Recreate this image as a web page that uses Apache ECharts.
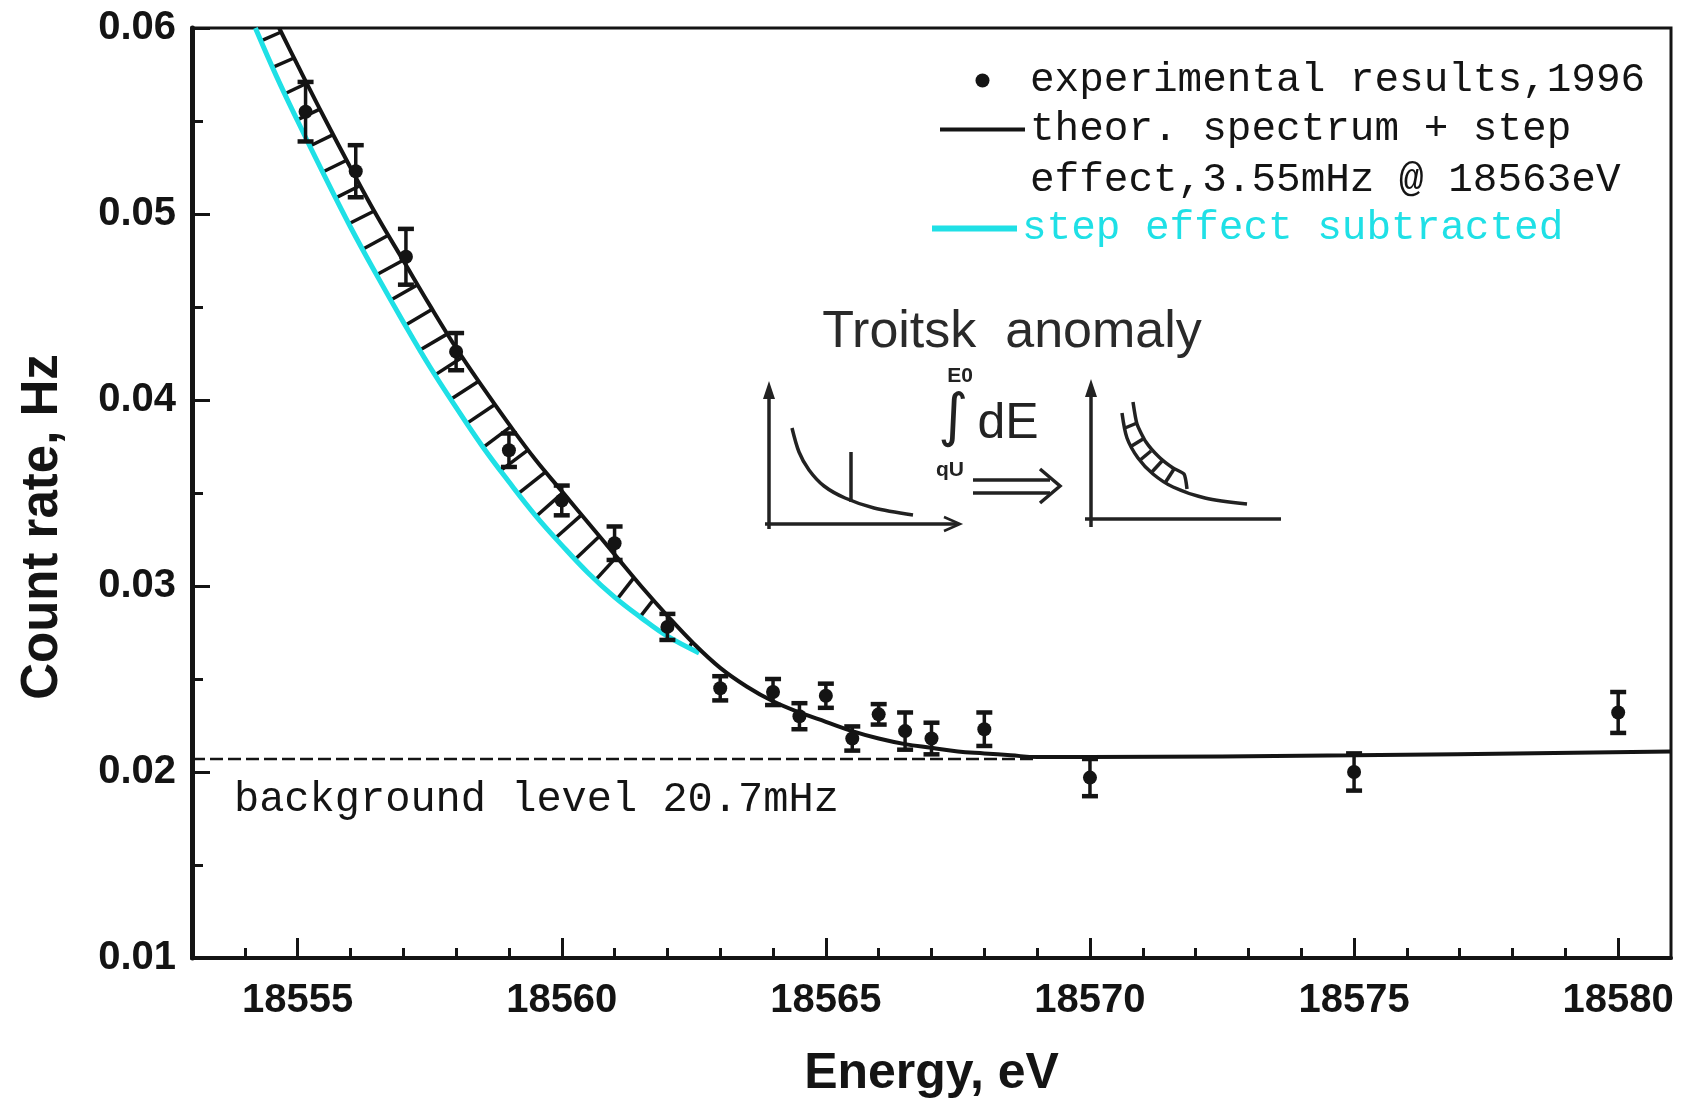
<!DOCTYPE html>
<html>
<head>
<meta charset="utf-8">
<title>Troitsk anomaly</title>
<script src="https://cdn.jsdelivr.net/npm/echarts/dist/echarts.min.js"></script>
<style>
  html, body { margin: 0; padding: 0; background: #fff; }
  #chart { width: 1685px; height: 1107px; }
</style>
</head>
<body>
<div id="chart"></div>
<script>
// measured points (energy, eV / count rate, Hz / error)
const expE = [18555.15, 18556.1, 18557.05, 18558, 18559, 18560, 18561, 18562, 18563, 18564,
              18564.5, 18565, 18565.5, 18566, 18566.5, 18567, 18568, 18570, 18575, 18580];
const expV = [0.0555, 0.0523, 0.0477, 0.0426, 0.0373, 0.0346, 0.0323, 0.0278, 0.0245, 0.0243,
              0.0230, 0.0241, 0.0218, 0.0231, 0.0222, 0.0218, 0.0223, 0.0197, 0.0200, 0.0232];
const expErr = [0.0016, 0.0014, 0.0015, 0.0010, 0.0009, 0.0008, 0.0009, 0.0007, 0.00065, 0.0007,
                0.0007, 0.00065, 0.00065, 0.00055, 0.0010, 0.00085, 0.0009, 0.0010, 0.0010, 0.0011];

// theoretical spectrum + step effect
const theoE = [18554.65, 18555, 18555.5, 18556, 18556.5, 18557, 18557.5, 18558, 18558.5, 18559,
               18559.5, 18560, 18560.5, 18561, 18561.5, 18562, 18562.5, 18563, 18563.5, 18564,
               18564.5, 18565, 18565.5, 18566, 18566.5, 18567, 18567.5, 18568, 18568.5, 18569,
               18570, 18575, 18581];
const theoV = [0.0600, 0.0580, 0.0552, 0.0525, 0.0499, 0.0475, 0.0451, 0.0428, 0.0407, 0.0387,
               0.0368, 0.0351, 0.0334, 0.0317, 0.0300, 0.0284, 0.0269, 0.0256, 0.0246, 0.0238,
               0.0232, 0.0227, 0.0222, 0.0218, 0.0215, 0.0213, 0.0211, 0.0210, 0.0209, 0.0208,
               0.0208, 0.0209, 0.0211];

// step effect subtracted
const cyanE = [18554.2, 18554.6, 18555, 18555.5, 18556, 18556.5, 18557, 18557.5, 18558, 18558.5,
               18559, 18559.5, 18560, 18560.5, 18561, 18561.5, 18562, 18562.6];
const cyanV = [0.0600, 0.0574, 0.0550, 0.0521, 0.0493, 0.0467, 0.0442, 0.0418, 0.0396, 0.0375,
               0.0356, 0.0338, 0.0322, 0.0307, 0.0294, 0.0283, 0.0273, 0.0264];

// background level
const bgE = [18553, 18569];
const bgLevel = 0.0207;

const xLabels = [18555, 18560, 18565, 18570, 18575, 18580];
const xMinor = [18554, 18556, 18557, 18558, 18559, 18561, 18562, 18563, 18564, 18566, 18567, 18568,
                18569, 18571, 18572, 18573, 18574, 18576, 18577, 18578, 18579];

const ink = '#141414';
const cyan = '#1fe0e6';
const expName = 'experimental results,1996';
const theoName = 'theor. spectrum + step effect,3.55mHz @ 18563eV';
const cyanName = 'step effect subtracted';

const chart = echarts.init(document.getElementById('chart'));

// 误差棒
function errorBarItem(params, api) {
    const x = api.value(0), y = api.value(1), e = api.value(2);
    const top = api.coord([x, y + e]);
    const bot = api.coord([x, y - e]);
    const hw = 8;
    return {
        type: 'group',
        children: [
            { type: 'line', shape: { x1: top[0], y1: top[1], x2: bot[0], y2: bot[1] }, style: { stroke: ink, lineWidth: 3.5 } },
            { type: 'line', shape: { x1: top[0] - hw, y1: top[1], x2: top[0] + hw, y2: top[1] }, style: { stroke: ink, lineWidth: 4.5 } },
            { type: 'line', shape: { x1: bot[0] - hw, y1: bot[1], x2: bot[0] + hw, y2: bot[1] }, style: { stroke: ink, lineWidth: 4.5 } }
        ]
    };
}

function cross(a, b) { return a[0] * b[1] - a[1] * b[0]; }

function rayHit(p, n, poly) {
    let best = null;
    for (let i = 0; i < poly.length - 1; i++) {
        const A = poly[i], B = poly[i + 1];
        const d = [B[0] - A[0], B[1] - A[1]];
        const denom = cross(n, d);
        if (Math.abs(denom) < 1e-9) continue;
        const w = [A[0] - p[0], A[1] - p[1]];
        const s = cross(w, d) / denom;
        const u = cross(w, n) / denom;
        if (u >= 0 && u <= 1 && s > 0 && (best === null || s < best)) best = s;
    }
    return best;
}

// 两条曲线之间的阴影线
function hatchItem(params, api) {
    const blk = theoE.map((e, i) => api.coord([e, theoV[i]]));
    const cy = cyanE.map((e, i) => api.coord([e, cyanV[i]]));
    const children = [];
    const step = 29;
    let acc = 14;
    for (let i = 0; i < cy.length - 1; i++) {
        const a = cy[i], b = cy[i + 1];
        const dx = b[0] - a[0], dy = b[1] - a[1];
        const len = Math.hypot(dx, dy);
        const tx = dx / len, ty = dy / len;
        const n = [ty, -tx];
        while (acc <= len) {
            const p = [a[0] + tx * acc, a[1] + ty * acc];
            const s = rayHit(p, n, blk);
            if (s !== null && s > 6 && s < 90) {
                children.push({
                    type: 'line',
                    shape: { x1: p[0], y1: p[1], x2: p[0] + n[0] * s, y2: p[1] + n[1] * s },
                    style: { stroke: ink, lineWidth: 3.5 }
                });
            }
            acc += step;
        }
        acc -= len;
    }
    return { type: 'group', children: children };
}

const sk = { stroke: '#222', lineWidth: 3.5, fill: null };

// Troitsk anomaly 示意图
const insetGraphic = [
    { type: 'text', x: 1012, y: 333, style: { text: 'Troitsk  anomaly', fontSize: 52, fontFamily: 'Liberation Sans', fill: '#2a2a2a', align: 'center', verticalAlign: 'middle' } },
    // left sketch
    { type: 'polyline', shape: { points: [[769, 529], [769, 388]] }, style: sk },
    { type: 'polygon', shape: { points: [[763, 399], [769, 381], [775, 399]] }, style: { fill: '#222' } },
    { type: 'polyline', shape: { points: [[765, 524], [958, 524]] }, style: sk },
    { type: 'polyline', shape: { points: [[944, 517], [960, 524], [944, 531]] }, style: { stroke: '#222', lineWidth: 2.5, fill: null } },
    { type: 'polyline', shape: { points: [[792, 428], [799, 452], [809, 470], [824, 486], [845, 498], [874, 508], [913, 515]], smooth: 0.3 }, style: sk },
    { type: 'polyline', shape: { points: [[851, 452], [851, 502]] }, style: sk },
    // integral sign and arrow
    { type: 'text', x: 960, y: 376, style: { text: 'E0', fontSize: 21, fontWeight: 'bold', fontFamily: 'Liberation Sans', fill: '#222', align: 'center', verticalAlign: 'middle' } },
    { type: 'text', x: 953, y: 420, style: { text: '\u222B', fontSize: 58, fontFamily: 'DejaVu Sans', fill: '#222', align: 'center', verticalAlign: 'middle' } },
    { type: 'text', x: 1008, y: 424, style: { text: 'dE', fontSize: 50, fontFamily: 'Liberation Sans', fill: '#222', align: 'center', verticalAlign: 'middle' } },
    { type: 'text', x: 950, y: 470, style: { text: 'qU', fontSize: 21, fontWeight: 'bold', fontFamily: 'Liberation Sans', fill: '#222', align: 'center', verticalAlign: 'middle' } },
    { type: 'polyline', shape: { points: [[973, 480], [1050, 480]] }, style: sk },
    { type: 'polyline', shape: { points: [[973, 493], [1050, 493]] }, style: sk },
    { type: 'polyline', shape: { points: [[1040, 469], [1060, 486], [1040, 503]] }, style: sk },
    // right sketch
    { type: 'polyline', shape: { points: [[1091, 527], [1091, 386]] }, style: sk },
    { type: 'polygon', shape: { points: [[1085, 397], [1091, 379], [1097, 397]] }, style: { fill: '#222' } },
    { type: 'polyline', shape: { points: [[1085, 519], [1281, 519]] }, style: sk },
    { type: 'polyline', shape: { points: [[1122, 413], [1127, 438], [1138, 458], [1153, 474], [1173, 487], [1205, 498], [1247, 504]], smooth: 0.3 }, style: sk },
    { type: 'polyline', shape: { points: [[1133, 402], [1137, 424], [1146, 442], [1159, 457], [1173, 468], [1184, 474], [1187, 489]], smooth: 0.2 }, style: sk },
    { type: 'polyline', shape: { points: [[1125, 428], [1137, 423]] }, style: sk },
    { type: 'polyline', shape: { points: [[1130, 447], [1143, 439]] }, style: sk },
    { type: 'polyline', shape: { points: [[1139, 461], [1151, 451]] }, style: sk },
    { type: 'polyline', shape: { points: [[1151, 473], [1162, 461]] }, style: sk },
    { type: 'polyline', shape: { points: [[1165, 483], [1174, 469]] }, style: sk },
    // second line of the theory legend entry
    { type: 'text', x: 1030, y: 180, style: { text: 'effect,3.55mHz @ 18563eV', fontSize: 41, fontFamily: 'Liberation Mono', fill: ink, align: 'left', verticalAlign: 'middle' } }
];

const tickFont = { fontFamily: 'Liberation Sans', fontWeight: 'bold', fontSize: 40, color: ink };

const option = {
    backgroundColor: '#fff',
    animation: false,
    grid: {
        left: 192, right: 14, top: 28, bottom: 149,
        show: true, borderColor: ink, borderWidth: 3
    },
    legend: [
        {
            data: [
                { name: expName, icon: 'circle' },
                { name: theoName, icon: 'path://M0,0H85V4H0Z' }
            ],
            orient: 'vertical', left: 940, top: 56, padding: 0,
            itemWidth: 85, itemHeight: 14, itemGap: 0,
            selectedMode: false,
            formatter: name => (name === theoName ? 'theor. spectrum + step' : name),
            textStyle: { fontFamily: 'Liberation Mono', fontSize: 41, lineHeight: 49, color: ink }
        },
        {
            data: [{ name: cyanName, icon: 'path://M0,0H85V6H0Z' }],
            orient: 'vertical', left: 932, top: 204, padding: 0,
            itemWidth: 85, itemHeight: 14,
            selectedMode: false,
            textStyle: { fontFamily: 'Liberation Mono', fontSize: 41, lineHeight: 49, color: cyan }
        }
    ],
    xAxis: [
        {
            type: 'value', min: 18553, max: 18581,
            name: 'Energy, eV', nameLocation: 'middle', nameGap: 91,
            nameTextStyle: { fontFamily: 'Liberation Sans', fontWeight: 'bold', fontSize: 50, color: ink },
            axisLine: { lineStyle: { color: ink, width: 4 } },
            axisTick: { inside: true, length: 20, customValues: xLabels, lineStyle: { color: ink, width: 3 } },
            axisLabel: Object.assign({ margin: 23, customValues: xLabels, formatter: v => String(v) }, tickFont),
            splitLine: { show: false }
        },
        {
            type: 'value', min: 18553, max: 18581, position: 'bottom',
            axisLine: { show: false },
            axisTick: { inside: true, length: 10, customValues: xMinor, lineStyle: { color: ink, width: 3 } },
            axisLabel: { show: false },
            splitLine: { show: false }
        }
    ],
    yAxis: {
        type: 'value', min: 0.01, max: 0.06, interval: 0.01,
        name: 'Count rate, Hz', nameLocation: 'middle', nameGap: 124,
        nameTextStyle: { fontFamily: 'Liberation Sans', fontWeight: 'bold', fontSize: 51, color: ink, padding: [0, 68, 0, 0] },
        axisLine: { show: true, lineStyle: { color: ink, width: 5 } },
        axisTick: { inside: true, length: 18, lineStyle: { color: ink, width: 3 } },
        minorTick: { show: true, splitNumber: 2, length: 11, lineStyle: { color: ink, width: 3 } },
        axisLabel: Object.assign({ margin: 16, formatter: v => v.toFixed(2) }, tickFont),
        splitLine: { show: false }
    },
    graphic: insetGraphic,
    series: [
        {
            type: 'custom',
            name: 'hatch',
            renderItem: hatchItem,
            data: [[18560, 0.04]],
            silent: true,
            z: 2
        },
        {
            name: 'background',
            type: 'line',
            data: bgE.map((e, i) => (i === 0 ? {
                value: [e, bgLevel],
                label: {
                    show: true, formatter: 'background level 20.7mHz',
                    position: [42, 20],
                    fontFamily: 'Liberation Mono', fontSize: 42, color: ink
                }
            } : [e, bgLevel])),
            symbol: 'circle', symbolSize: 0.1, showSymbol: true,
            itemStyle: { color: 'transparent' },
            lineStyle: { color: ink, width: 2.5, type: [13, 5] },
            z: 2
        },
        {
            name: cyanName,
            type: 'line',
            data: cyanE.map((e, i) => [e, cyanV[i]]),
            smooth: 0.4, symbol: 'none',
            lineStyle: { color: cyan, width: 5 },
            itemStyle: { color: cyan },
            z: 3
        },
        {
            name: theoName,
            type: 'line',
            data: theoE.map((e, i) => [e, theoV[i]]),
            smooth: 0.4, symbol: 'none',
            lineStyle: { color: ink, width: 4 },
            itemStyle: { color: ink },
            z: 4
        },
        {
            name: 'errors',
            type: 'custom',
            renderItem: errorBarItem,
            data: expE.map((e, i) => [e, expV[i], expErr[i]]),
            encode: { x: 0, y: 1 },
            z: 5
        },
        {
            name: expName,
            type: 'scatter',
            data: expE.map((e, i) => [e, expV[i]]),
            symbol: 'circle', symbolSize: 14,
            itemStyle: { color: ink, opacity: 1 },
            z: 6
        }
    ]
};

chart.setOption(option);
</script>
</body>
</html>
